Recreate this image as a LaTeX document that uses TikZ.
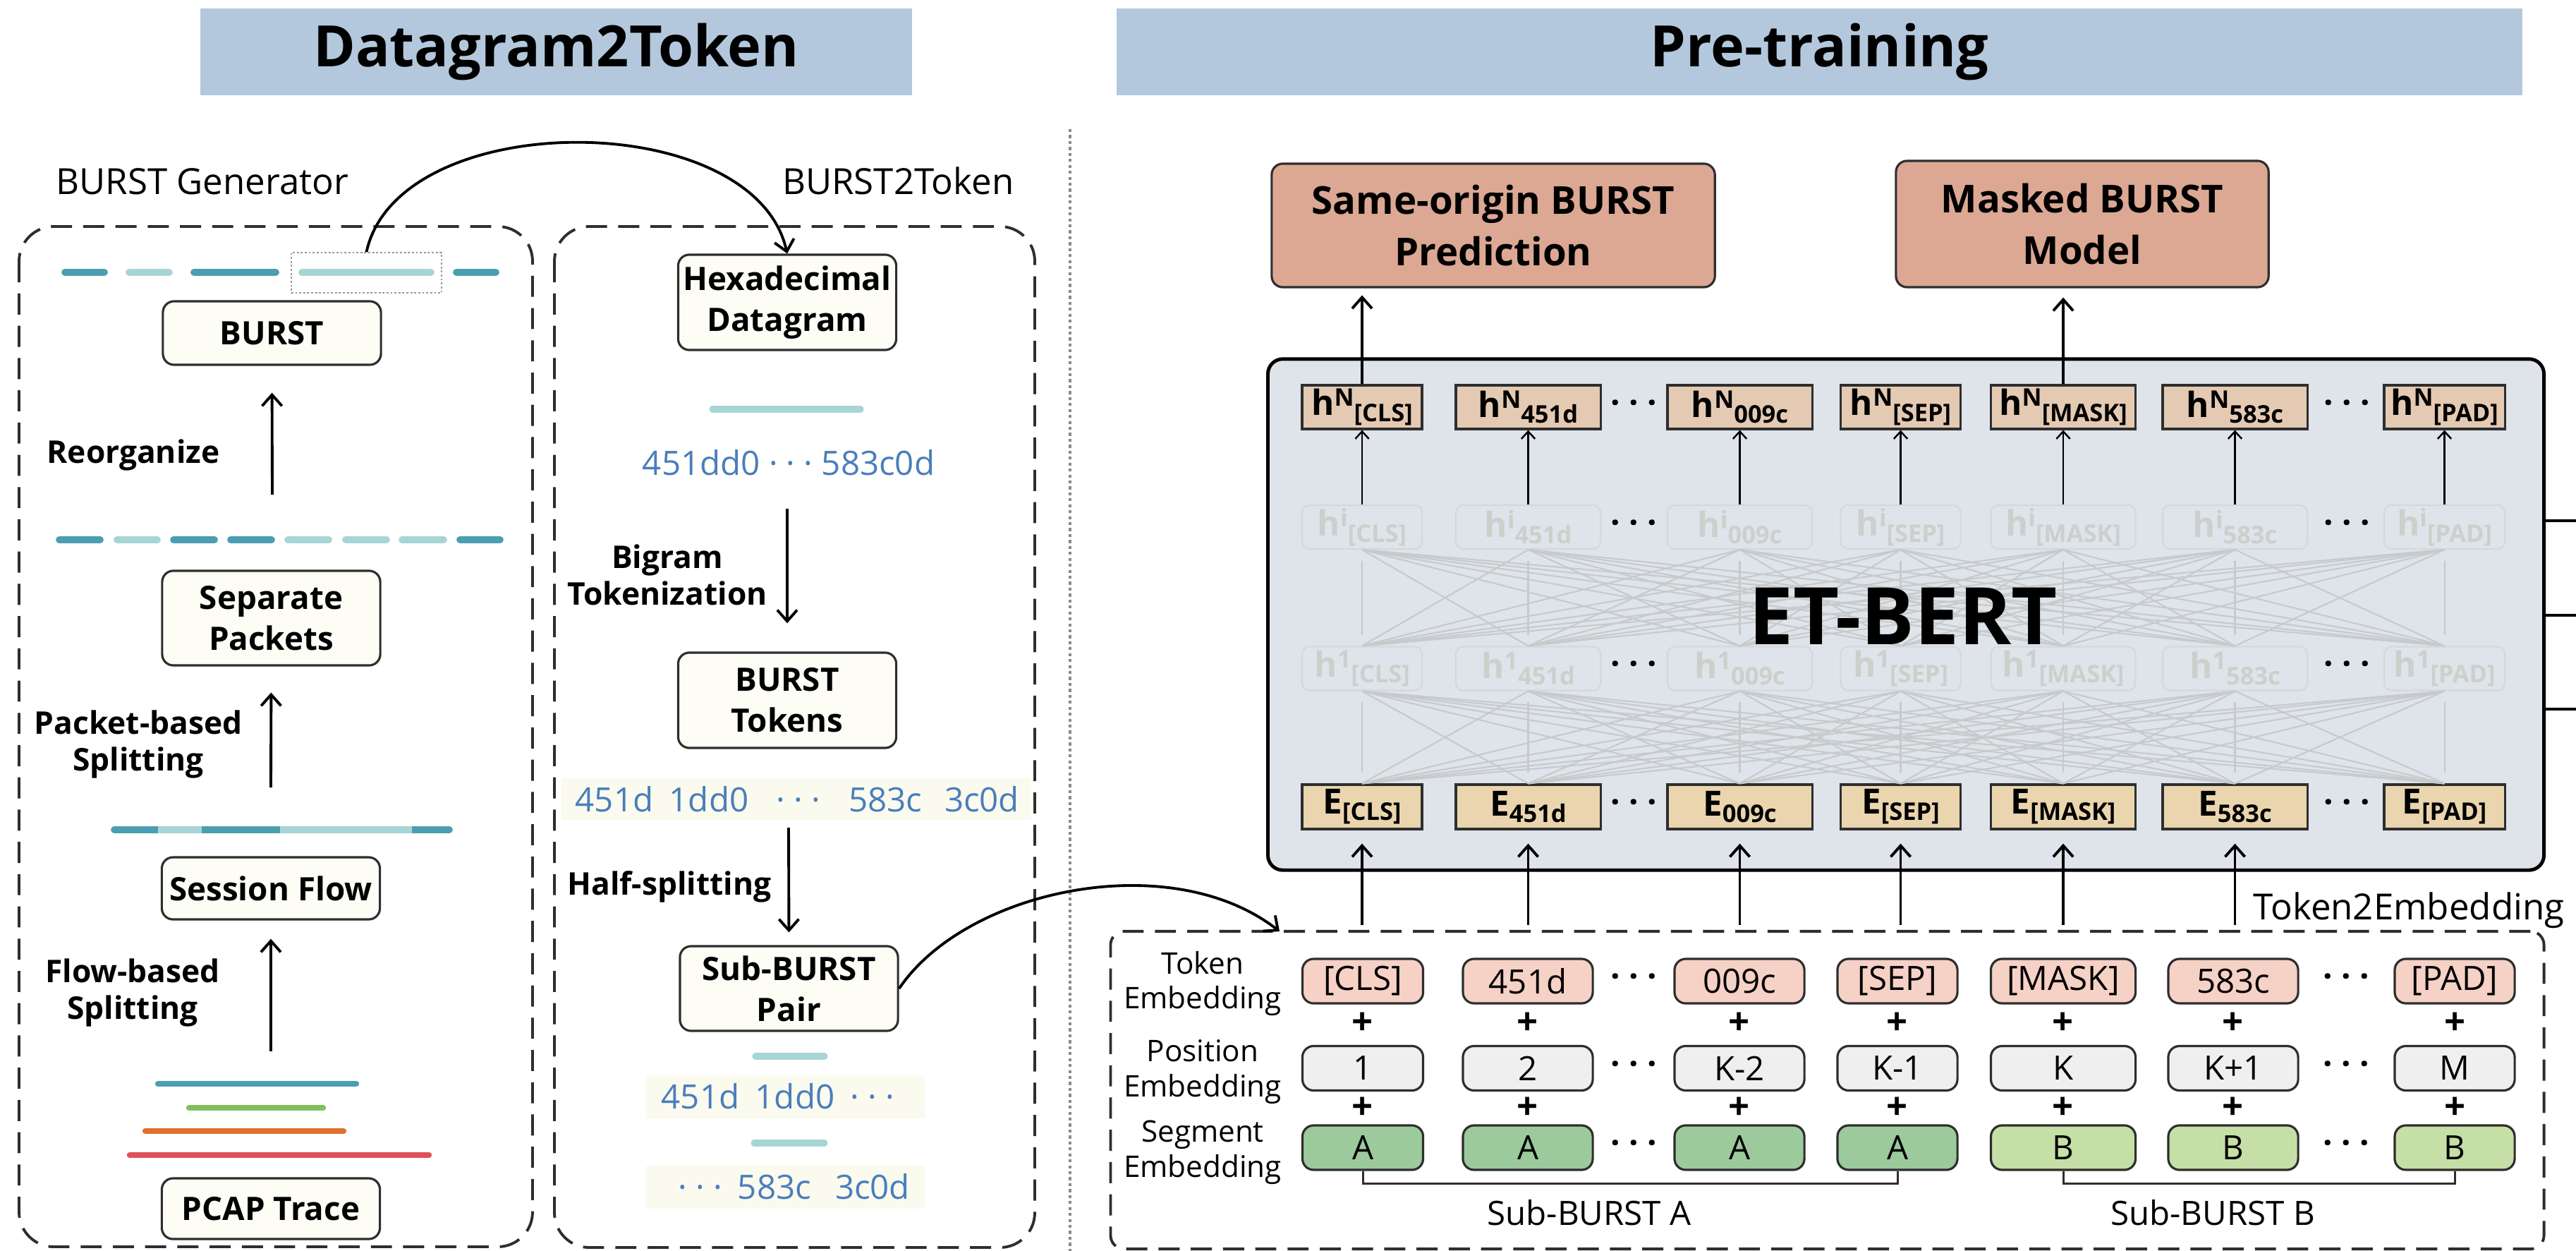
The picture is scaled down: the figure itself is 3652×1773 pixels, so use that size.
\documentclass[tikz,border=0pt]{standalone}
\usepackage{fontspec}
\setmainfont{Open Sans}
\usetikzlibrary{arrows.meta}

\definecolor{titlebg}{HTML}{B4C8DD}
\definecolor{ivory}{HTML}{FDFDF6}
\definecolor{tealD}{HTML}{4B9EB2}
\definecolor{tealL}{HTML}{A7D5D5}
\definecolor{hexblue}{HTML}{4A7EBB}
\definecolor{taskfill}{HTML}{DCA893}
\definecolor{bertbg}{HTML}{DFE4EB}
\definecolor{hNfill}{HTML}{E5CAB3}
\definecolor{Efill}{HTML}{EAD5AE}
\definecolor{faint}{HTML}{CBD0CB}
\definecolor{ghostline}{HTML}{D3D8DB}
\definecolor{fan}{HTML}{C6CACA}
\definecolor{tokfill}{HTML}{F6D1C6}
\definecolor{posfill}{HTML}{EFEFEF}
\definecolor{segA}{HTML}{9CCA9C}
\definecolor{segB}{HTML}{C6DFA6}
\definecolor{lineG}{HTML}{80C05A}
\definecolor{lineO}{HTML}{E0702E}
\definecolor{lineR}{HTML}{E0505A}
\definecolor{band}{HTML}{FAFAEF}
\definecolor{frame}{HTML}{2E2E2E}
\definecolor{divgray}{HTML}{8A8A8A}
\definecolor{dotgray}{HTML}{9A9A9A}

% hidden-state and embedding symbols
\newcommand{\hvec}[2]{h\raisebox{3.6pt}{\fontsize{9.8}{10}\selectfont #1}\raisebox{-2.5pt}{\fontsize{9.8}{10}\selectfont #2}}
\newcommand{\evec}[1]{E\raisebox{-2.5pt}{\fontsize{9.8}{10}\selectfont #1}}
\newcommand{\tdots}{·\hspace{0.26em}·\hspace{0.26em}·}

\begin{document}
\begin{tikzpicture}[x=0.01cm,y=-0.01cm,
  headbar/.style={fill=titlebg, inner sep=0pt, font=\fontsize{23}{26}\selectfont\bfseries},
  panel/.style={draw=frame, line width=1.1pt, dash pattern=on 8.5pt off 4.5pt},
  divider/.style={draw=divgray, line width=0.9pt, dash pattern=on 1.2pt off 1.2pt},
  procbox/.style={draw=frame, line width=0.9pt, fill=ivory, rounded corners=4.5pt, align=center, inner sep=0pt, minimum width=30.9mm, font=\fontsize{13}{16.5}\selectfont\bfseries},
  opname/.style={align=center, inner sep=0pt, font=\fontsize{12.6}{15}\selectfont\bfseries},
  sublabel/.style={inner sep=0pt, font=\fontsize{14.5}{17}\selectfont},
  arr/.style={line width=1.1pt, -{Straight Barb[length=4.5pt,width=8pt]}},
  thinarr/.style={line width=0.7pt, -{Straight Barb[length=3pt,width=5.5pt]}},
  seg/.style={line width=2.8pt, line cap=round},
  trace/.style={line width=2.4pt, line cap=round},
  hexword/.style={inner sep=0pt, anchor=base, text=hexblue, font=\fontsize{13.5}{16}\selectfont},
  task/.style={draw=frame, line width=0.9pt, fill=taskfill, rounded corners=4.5pt, align=center, inner sep=0pt, font=\fontsize{15.5}{20.8}\selectfont\bfseries},
  hbox/.style={draw=frame, line width=0.9pt, inner sep=0pt, minimum height=6.2mm, font=\fontsize{14}{14}\selectfont\bfseries},
  ghost/.style={draw=ghostline, line width=0.6pt, rounded corners=3pt, inner sep=0pt, minimum height=6.2mm, text=faint, font=\fontsize{14}{14}\selectfont\bfseries},
  fanline/.style={draw=fan, line width=0.6pt},
  emb/.style={draw=frame, line width=0.9pt, rounded corners=4.5pt, inner sep=0pt, minimum height=6.3mm, font=\fontsize{13.5}{16}\selectfont},
  rowlabel/.style={align=center, inner sep=0pt, font=\fontsize{12}{14.2}\selectfont},
  plus/.style={inner sep=0pt, font=\fontsize{15}{16}\selectfont\bfseries},
  bdots/.style={inner sep=0pt, font=\fontsize{13.5}{14}\selectfont\bfseries},
  subname/.style={inner sep=0pt, anchor=base, font=\fontsize{13.5}{16}\selectfont},
]

\useasboundingbox (0,0) rectangle (3652,1773);
\fill[white] (0,0) rectangle (3652,1773);

% ---------- section headers ----------
\node[headbar, minimum width=100.9mm, minimum height=12.3mm] (headL) at (788.5,73.5) {Datagram2Token};
\node[headbar, minimum width=199.1mm, minimum height=12.3mm] (headR) at (2579.5,73.5) {Pre-training};

% divider between the two halves
\draw[divider] (1517,183) -- (1517,1773);

% ---------- Datagram2Token panels ----------
\draw[panel, rounded corners=14pt] (27,321) rectangle (755,1767);
\draw[panel, rounded corners=14pt] (786,321) rectangle (1467,1768);
\node[sublabel, anchor=base west] (genlabel) at (79,276) {BURST Generator};
\node[sublabel, anchor=base east] (b2tlabel) at (1438,276) {BURST2Token};

% BURST generator: packets regrouped into a BURST
\draw[seg, tealD] (92,386) -- (148,386);
\draw[seg, tealL] (183,386) -- (240,386);
\draw[seg, tealD] (275,386) -- (391,386);
\draw[seg, tealL] (428,386) -- (611,386);
\draw[seg, tealD] (647,386) -- (703,386);
\node[draw=dotgray, line width=0.45pt, dash pattern=on 0.8pt off 0.8pt, minimum width=21.3mm, minimum height=5.7mm, inner sep=0pt] (sel) at (519.5,386.5) {};

\node[procbox, minimum height=9mm] (burst) at (385.5,472) {BURST};
\coordinate (reorgFrom) at (386,701);
\draw[arr, shorten >=10.8pt] (reorgFrom) -- (burst.south);
\node[opname] (reorg) at (189,645) {Reorganize};

\draw[seg, tealD] (84,765) -- (142,765);
\draw[seg, tealL] (166,765) -- (223,765);
\draw[seg, tealD] (246,765) -- (304,765);
\draw[seg, tealD] (327,765) -- (385,765);
\draw[seg, tealL] (408,765) -- (466,765);
\draw[seg, tealL] (490,765) -- (548,765);
\draw[seg, tealL] (570,765) -- (629,765);
\draw[seg, tealD] (652,765) -- (709,765);

\node[procbox, minimum height=13.4mm] (sep) at (384.5,876) {Separate\\Packets};
\coordinate (pktFrom) at (384,1116);
\draw[arr, shorten >=10.5pt] (pktFrom) -- (sep.south);
\node[opname] (pktlabel) at (196,1055) {Packet-based\\Splitting};

\draw[seg, tealD] (162,1176) -- (637,1176);
\draw[line width=2.8pt, tealL] (224,1176) -- (286,1176);
\draw[line width=2.8pt, tealL] (397,1176) -- (584,1176);

\node[procbox, minimum height=8.8mm] (flow) at (384,1259) {Session Flow};
\coordinate (flowFrom) at (384,1490);
\draw[arr, shorten >=7.4pt] (flowFrom) -- (flow.south);
\node[opname] (flowlabel) at (188,1407) {Flow-based\\Splitting};

\draw[trace, tealD] (224,1536) -- (505,1536);
\draw[trace, lineG] (268,1570) -- (458,1570);
\draw[trace, lineO] (206,1603) -- (487,1603);
\draw[trace, lineR] (184,1637) -- (608,1637);
\node[procbox, minimum height=8.6mm] (pcap) at (384,1713) {PCAP Trace};

% BURST2Token
\node[procbox, minimum height=13.5mm] (hex) at (1116,428.5) {Hexadecimal\\Datagram};
\draw[line width=2.6pt, line cap=round, tealL] (1010,580) -- (1220,580);
\node[hexword] (hexstr) at (1118,673) {451dd0 · · · 583c0d};
\coordinate (bigFrom) at (1116,721);
\node[procbox, minimum height=13.5mm] (tokens) at (1116,992.5) {BURST\\Tokens};
\draw[arr, shorten >=11.4pt] (bigFrom) -- (tokens.north);
\node[opname] (biglabel) at (946,815) {Bigram\\Tokenization};

\fill[band] (796,1103) rectangle (1462,1162);
\node[hexword] (w1) at (871,1150) {451d};
\node[hexword] (w2) at (1005,1150) {1dd0};
\node[hexword] (w3) at (1132,1150) {· · ·};
\node[hexword] (w4) at (1255,1150) {583c};
\node[hexword] (w5) at (1392,1150) {3c0d};

\coordinate (halfFrom) at (1118,1173);
\node[procbox, minimum height=12mm] (pair) at (1118.5,1401) {Sub-BURST\\Pair};
\draw[arr, shorten >=5.1pt] (halfFrom) -- (pair.north);
\node[opname] (halflabel) at (949,1257) {Half-splitting};

\draw[line width=2.6pt, line cap=round, tealL] (1071,1497) -- (1169,1497);
\fill[band] (916,1524) rectangle (1311,1585);
\node[hexword] (wa1) at (993,1571) {451d};
\node[hexword] (wa2) at (1127,1571) {1dd0};
\node[hexword] (wa3) at (1237,1571) {· · ·};
\draw[line width=2.6pt, line cap=round, tealL] (1069,1620) -- (1169,1620);
\fill[band] (916,1652) rectangle (1311,1713);
\node[hexword] (wb1) at (993,1699) {· · ·};
\node[hexword] (wb2) at (1098,1699) {583c};
\node[hexword] (wb3) at (1237,1699) {3c0d};

% selected BURST goes to the datagram stage
\draw[arr] (sel.north) .. controls +(45,-207) and +(-47,-209) .. (hex.north);

% ---------- Pre-training ----------
\node[task, minimum width=62.8mm, minimum height=17.5mm] (sbp) at (2117,319.5) {Same-origin BURST\\Prediction};
\node[task, minimum width=52.8mm, minimum height=17.9mm] (mbm) at (2952,317.5) {Masked BURST\\Model};

\node[draw=black, line width=1.4pt, fill=bertbg, rounded corners=6pt, minimum width=180.8mm, minimum height=72.4mm, inner sep=0pt] (bert) at (2702,871) {};
\draw[line width=1.1pt] (3606,738) -- (3652,738);
\draw[line width=1.1pt] (3606,872) -- (3652,872);
\draw[line width=1.1pt] (3606,1005) -- (3652,1005);

\foreach \i/\x/\w/\s in {1/1931/17/{[CLS]}, 2/2166.5/20.5/451d, 3/2466.5/20.5/009c, 4/2694.5/17/{[SEP]}, 5/2925/20.5/{[MASK]}, 6/3168.5/20.5/583c, 7/3465.5/17.1/{[PAD]}}{
  \node[hbox, fill=hNfill, minimum width=\w mm] (hN\i) at (\x,577) {\hvec{N}{\s}};
  \node[ghost, minimum width=\w mm] (hi\i) at (\x,747) {\hvec{i}{\s}};
  \node[ghost, minimum width=\w mm] (hone\i) at (\x,947.5) {\hvec{1}{\s}};
  \node[hbox, fill=Efill, minimum width=\w mm, minimum height=6.3mm] (E\i) at (\x,1143.5) {\evec{\s}};
}
\foreach \r/\y in {a/577, b/747, c/947.5, d/1143.5}{
  \node[bdots] (bdl\r) at (2316,\y) {\tdots};
  \node[bdots] (bdr\r) at (3327,\y) {\tdots};
}

% fully connected attention between layers
\foreach \a in {1,...,7}{\foreach \b in {1,...,7}{
  \ifnum\a=\b
    \draw[fanline, shorten <=4.5pt, shorten >=4.5pt] (E\a.north) -- (hone\b.south);
    \draw[fanline, shorten <=4.5pt, shorten >=4.5pt] (hone\a.north) -- (hi\b.south);
  \else
    \draw[fanline] (E\a.north) -- (hone\b.south);
    \draw[fanline] (hone\a.north) -- (hi\b.south);
  \fi
}}
\foreach \i in {1,...,7}{
  \draw[thinarr] (hi\i.north) -- (hN\i.south);
}
\node[inner sep=0pt, font=\fontsize{32}{34}\selectfont\bfseries] (bertname) at (2698,873) {ET-BERT};

\draw[arr, shorten >=2.8pt] (hN1.north) -- (sbp.south -| hN1.north);
\draw[arr, shorten >=3.7pt] (hN5.north) -- (mbm.south -| hN5.north);

% ---------- Token2Embedding ----------
\node[panel, rounded corners=5.5pt, minimum width=203.1mm, minimum height=45mm, inner sep=0pt] (t2e) at (2590.5,1545) {};
\node[sublabel, anchor=base east] (t2elabel) at (3636,1303) {Token2Embedding};

\foreach \i in {1,...,6}{
  \draw[arr, shorten <=2pt, shorten >=5.4pt] (E\i.south |- t2e.north) -- (E\i.south);
}

\foreach \i/\x/\w/\tk/\ps/\sg in {1/1932/17.1/{[CLS]}/1/A, 2/2166/18.4/451d/2/A, 3/2466/18.4/009c/K-2/A, 4/2690/17/{[SEP]}/K-1/A, 5/2925/20.5/{[MASK]}/K/B, 6/3166/18.4/583c/K+1/B, 7/3480/17/{[PAD]}/M/B}{
  \node[emb, fill=tokfill, minimum width=\w mm] (tok\i) at (\x,1390.5) {\tk};
  \node[emb, fill=posfill, minimum width=\w mm] (pos\i) at (\x,1514) {\ps};
  \node[emb, fill=seg\sg, minimum width=\w mm] (sgm\i) at (\x,1626.5) {\sg};
  \node[plus] (plusA\i) at (\x,1451) {+};
  \node[plus] (plusB\i) at (\x,1571) {+};
}
\foreach \r/\y in {a/1390.5, b/1514, c/1626.5}{
  \node[bdots] (edl\r) at (2316,\y) {\tdots};
  \node[bdots] (edr\r) at (3326,\y) {\tdots};
}

\node[rowlabel] (lblTok) at (1705,1394) {Token\\Embedding};
\node[rowlabel] (lblPos) at (1705,1519) {Position\\Embedding};
\node[rowlabel] (lblSeg) at (1705,1633) {Segment\\Embedding};

\draw[frame, line width=0.85pt] (sgm1.south) -- ++(0,18) -| (sgm4.south);
\draw[frame, line width=0.85pt] (sgm5.south) -- ++(0,18) -| (sgm7.south);
\node[subname] (subA) at (2253,1736) {Sub-BURST A};
\node[subname] (subB) at (3137,1736) {Sub-BURST B};

% the sub-BURST pair feeds the embedding stage
\coordinate (t2eIn) at (1814,1320);
\draw[arr] (pair.east) .. controls (1370,1260) and (1660,1200) .. (t2eIn);

\end{tikzpicture}
\end{document}
